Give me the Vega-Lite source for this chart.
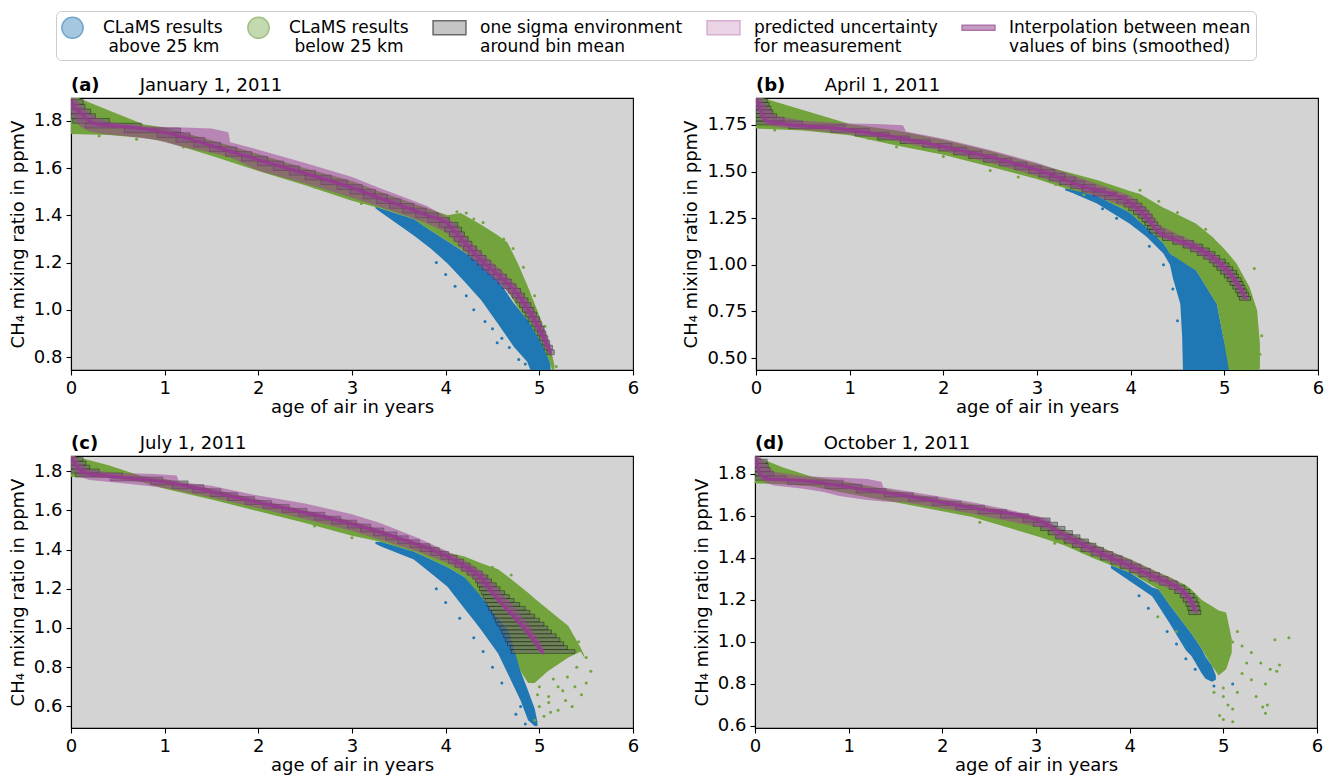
{
"$schema":"https://vega.github.io/schema/vega-lite/v6.json",
"padding":{"left":8,"top":10,"right":5,"bottom":2},
"datasets":{
"leg":[{"L":"CLaMS results|\u200b\u00a0above 25 km"},{"L":"CLaMS results|\u200b\u00a0below 25 km"},{"L":"one sigma environment|around bin mean"},{"L":"predicted uncertainty|for measurement"},{"L":"Interpolation between mean|values of bins (smoothed)"}],
"cloud":[
{"p":"a","k":"blue","age":3.25,"ch4":1.43,"ch4hi":1.44},{"p":"a","k":"blue","age":3.3,"ch4":1.415,"ch4hi":1.43},{"p":"a","k":"blue","age":3.66,"ch4":1.315,"ch4hi":1.385},{"p":"a","k":"blue","age":3.84,"ch4":1.26,"ch4hi":1.336},{"p":"a","k":"blue","age":4.02,"ch4":1.196,"ch4hi":1.29},{"p":"a","k":"blue","age":4.2,"ch4":1.12,"ch4hi":1.244},{"p":"a","k":"blue","age":4.38,"ch4":1.04,"ch4hi":1.195},{"p":"a","k":"blue","age":4.56,"ch4":0.94,"ch4hi":1.125},{"p":"a","k":"blue","age":4.73,"ch4":0.842,"ch4hi":1.027},{"p":"a","k":"blue","age":4.87,"ch4":0.78,"ch4hi":0.96},{"p":"a","k":"blue","age":4.95,"ch4":0.7,"ch4hi":0.925},{"p":"a","k":"blue","age":5.05,"ch4":0.7,"ch4hi":0.842},{"p":"a","k":"blue","age":5.12,"ch4":0.7,"ch4hi":0.77},
{"p":"a","k":"green","age":0,"ch4":1.745,"ch4hi":1.91},{"p":"a","k":"green","age":0.4,"ch4":1.74,"ch4hi":1.845},{"p":"a","k":"green","age":0.78,"ch4":1.728,"ch4hi":1.785},{"p":"a","k":"green","age":1.0,"ch4":1.713,"ch4hi":1.772},{"p":"a","k":"green","age":1.5,"ch4":1.652,"ch4hi":1.718},{"p":"a","k":"green","age":2.0,"ch4":1.588,"ch4hi":1.66},{"p":"a","k":"green","age":2.5,"ch4":1.528,"ch4hi":1.6},{"p":"a","k":"green","age":3.0,"ch4":1.462,"ch4hi":1.545},{"p":"a","k":"green","age":3.3,"ch4":1.43,"ch4hi":1.5},{"p":"a","k":"green","age":3.66,"ch4":1.385,"ch4hi":1.45},{"p":"a","k":"green","age":3.84,"ch4":1.336,"ch4hi":1.425},{"p":"a","k":"green","age":4.02,"ch4":1.29,"ch4hi":1.4},{"p":"a","k":"green","age":4.16,"ch4":1.255,"ch4hi":1.41},{"p":"a","k":"green","age":4.38,"ch4":1.195,"ch4hi":1.36},{"p":"a","k":"green","age":4.56,"ch4":1.125,"ch4hi":1.315},{"p":"a","k":"green","age":4.66,"ch4":1.08,"ch4hi":1.285},{"p":"a","k":"green","age":4.77,"ch4":1.01,"ch4hi":1.197},{"p":"a","k":"green","age":4.88,"ch4":0.955,"ch4hi":1.095},{"p":"a","k":"green","age":5.02,"ch4":0.86,"ch4hi":0.956},{"p":"a","k":"green","age":5.12,"ch4":0.77,"ch4hi":0.84},{"p":"a","k":"green","age":5.16,"ch4":0.7,"ch4hi":0.766},
{"p":"b","k":"blue","age":3.3,"ch4":1.4,"ch4hi":1.41},{"p":"b","k":"blue","age":3.38,"ch4":1.385,"ch4hi":1.405},{"p":"b","k":"blue","age":3.64,"ch4":1.328,"ch4hi":1.37},{"p":"b","k":"blue","age":3.99,"ch4":1.22,"ch4hi":1.28},{"p":"b","k":"blue","age":4.17,"ch4":1.15,"ch4hi":1.2},{"p":"b","k":"blue","age":4.35,"ch4":1.06,"ch4hi":1.115},{"p":"b","k":"blue","age":4.42,"ch4":1.0,"ch4hi":1.06},{"p":"b","k":"blue","age":4.45,"ch4":0.93,"ch4hi":1.05},{"p":"b","k":"blue","age":4.53,"ch4":0.79,"ch4hi":1.03},{"p":"b","k":"blue","age":4.55,"ch4":0.61,"ch4hi":1.02},{"p":"b","k":"blue","age":4.56,"ch4":0.4,"ch4hi":1.02},{"p":"b","k":"blue","age":4.7,"ch4":0.4,"ch4hi":0.97},{"p":"b","k":"blue","age":4.92,"ch4":0.4,"ch4hi":0.79},{"p":"b","k":"blue","age":4.99,"ch4":0.4,"ch4hi":0.61},{"p":"b","k":"blue","age":5.06,"ch4":0.4,"ch4hi":0.45},
{"p":"b","k":"green","age":0,"ch4":1.73,"ch4hi":1.905},{"p":"b","k":"green","age":0.5,"ch4":1.72,"ch4hi":1.83},{"p":"b","k":"green","age":1.0,"ch4":1.695,"ch4hi":1.755},{"p":"b","k":"green","age":1.5,"ch4":1.64,"ch4hi":1.72},{"p":"b","k":"green","age":2.0,"ch4":1.59,"ch4hi":1.67},{"p":"b","k":"green","age":2.5,"ch4":1.525,"ch4hi":1.61},{"p":"b","k":"green","age":3.0,"ch4":1.46,"ch4hi":1.54},{"p":"b","k":"green","age":3.3,"ch4":1.41,"ch4hi":1.5},{"p":"b","k":"green","age":3.64,"ch4":1.37,"ch4hi":1.455},{"p":"b","k":"green","age":3.99,"ch4":1.28,"ch4hi":1.395},{"p":"b","k":"green","age":4.1,"ch4":1.23,"ch4hi":1.38},{"p":"b","k":"green","age":4.35,"ch4":1.115,"ch4hi":1.306},{"p":"b","k":"green","age":4.42,"ch4":1.06,"ch4hi":1.29},{"p":"b","k":"green","age":4.63,"ch4":0.99,"ch4hi":1.237},{"p":"b","k":"green","age":4.7,"ch4":0.97,"ch4hi":1.22},{"p":"b","k":"green","age":4.88,"ch4":0.82,"ch4hi":1.146},{"p":"b","k":"green","age":4.92,"ch4":0.79,"ch4hi":1.125},{"p":"b","k":"green","age":4.99,"ch4":0.61,"ch4hi":1.09},{"p":"b","k":"green","age":5.06,"ch4":0.4,"ch4hi":1.05},{"p":"b","k":"green","age":5.13,"ch4":0.4,"ch4hi":1.007},{"p":"b","k":"green","age":5.27,"ch4":0.4,"ch4hi":0.88},{"p":"b","k":"green","age":5.35,"ch4":0.4,"ch4hi":0.755},{"p":"b","k":"green","age":5.38,"ch4":0.45,"ch4hi":0.58},
{"p":"c","k":"blue","age":3.25,"ch4":1.43,"ch4hi":1.44},{"p":"c","k":"blue","age":3.31,"ch4":1.416,"ch4hi":1.44},{"p":"c","k":"blue","age":3.66,"ch4":1.349,"ch4hi":1.39},{"p":"c","k":"blue","age":3.84,"ch4":1.28,"ch4hi":1.35},{"p":"c","k":"blue","age":4.02,"ch4":1.21,"ch4hi":1.31},{"p":"c","k":"blue","age":4.2,"ch4":1.1,"ch4hi":1.26},{"p":"c","k":"blue","age":4.3,"ch4":1.04,"ch4hi":1.22},{"p":"c","k":"blue","age":4.38,"ch4":0.99,"ch4hi":1.16},{"p":"c","k":"blue","age":4.56,"ch4":0.87,"ch4hi":1.05},{"p":"c","k":"blue","age":4.67,"ch4":0.76,"ch4hi":0.99},{"p":"c","k":"blue","age":4.73,"ch4":0.7,"ch4hi":0.93},{"p":"c","k":"blue","age":4.8,"ch4":0.63,"ch4hi":0.78},{"p":"c","k":"blue","age":4.88,"ch4":0.53,"ch4hi":0.68},{"p":"c","k":"blue","age":4.95,"ch4":0.5,"ch4hi":0.59},{"p":"c","k":"blue","age":4.98,"ch4":0.5,"ch4hi":0.52},
{"p":"c","k":"green","age":0,"ch4":1.77,"ch4hi":1.88},{"p":"c","k":"green","age":0.4,"ch4":1.765,"ch4hi":1.83},{"p":"c","k":"green","age":0.75,"ch4":1.745,"ch4hi":1.775},{"p":"c","k":"green","age":1.0,"ch4":1.71,"ch4hi":1.76},{"p":"c","k":"green","age":1.5,"ch4":1.655,"ch4hi":1.71},{"p":"c","k":"green","age":2.0,"ch4":1.595,"ch4hi":1.655},{"p":"c","k":"green","age":2.5,"ch4":1.535,"ch4hi":1.6},{"p":"c","k":"green","age":3.0,"ch4":1.47,"ch4hi":1.545},{"p":"c","k":"green","age":3.31,"ch4":1.44,"ch4hi":1.5},{"p":"c","k":"green","age":3.66,"ch4":1.39,"ch4hi":1.44},{"p":"c","k":"green","age":3.84,"ch4":1.35,"ch4hi":1.42},{"p":"c","k":"green","age":4.02,"ch4":1.31,"ch4hi":1.385},{"p":"c","k":"green","age":4.2,"ch4":1.26,"ch4hi":1.364},{"p":"c","k":"green","age":4.38,"ch4":1.16,"ch4hi":1.33},{"p":"c","k":"green","age":4.56,"ch4":1.05,"ch4hi":1.3},{"p":"c","k":"green","age":4.67,"ch4":0.99,"ch4hi":1.26},{"p":"c","k":"green","age":4.8,"ch4":0.78,"ch4hi":1.21},{"p":"c","k":"green","age":4.88,"ch4":0.72,"ch4hi":1.18},{"p":"c","k":"green","age":4.95,"ch4":0.72,"ch4hi":1.15},{"p":"c","k":"green","age":5.09,"ch4":0.78,"ch4hi":1.096},{"p":"c","k":"green","age":5.31,"ch4":0.85,"ch4hi":1.01},{"p":"c","k":"green","age":5.44,"ch4":0.88,"ch4hi":0.9},{"p":"c","k":"green","age":5.48,"ch4":0.85,"ch4hi":0.86},
{"p":"d","k":"blue","age":3.8,"ch4":1.35,"ch4hi":1.365},{"p":"d","k":"blue","age":4.0,"ch4":1.29,"ch4hi":1.33},{"p":"d","k":"blue","age":4.24,"ch4":1.217,"ch4hi":1.26},{"p":"d","k":"blue","age":4.31,"ch4":1.17,"ch4hi":1.25},{"p":"d","k":"blue","age":4.42,"ch4":1.094,"ch4hi":1.18},{"p":"d","k":"blue","age":4.6,"ch4":0.96,"ch4hi":1.075},{"p":"d","k":"blue","age":4.66,"ch4":0.933,"ch4hi":1.04},{"p":"d","k":"blue","age":4.77,"ch4":0.85,"ch4hi":0.966},{"p":"d","k":"blue","age":4.81,"ch4":0.824,"ch4hi":0.93},{"p":"d","k":"blue","age":4.88,"ch4":0.81,"ch4hi":0.885},{"p":"d","k":"blue","age":4.92,"ch4":0.82,"ch4hi":0.84},
{"p":"d","k":"green","age":0,"ch4":1.755,"ch4hi":1.885},{"p":"d","k":"green","age":0.3,"ch4":1.75,"ch4hi":1.83},{"p":"d","k":"green","age":0.61,"ch4":1.74,"ch4hi":1.786},{"p":"d","k":"green","age":1.0,"ch4":1.705,"ch4hi":1.76},{"p":"d","k":"green","age":1.61,"ch4":1.655,"ch4hi":1.71},{"p":"d","k":"green","age":2.32,"ch4":1.595,"ch4hi":1.655},{"p":"d","k":"green","age":3.03,"ch4":1.5,"ch4hi":1.595},{"p":"d","k":"green","age":3.3,"ch4":1.46,"ch4hi":1.53},{"p":"d","k":"green","age":3.6,"ch4":1.4,"ch4hi":1.47},{"p":"d","k":"green","age":3.8,"ch4":1.365,"ch4hi":1.43},{"p":"d","k":"green","age":4.0,"ch4":1.33,"ch4hi":1.395},{"p":"d","k":"green","age":4.31,"ch4":1.25,"ch4hi":1.33},{"p":"d","k":"green","age":4.42,"ch4":1.18,"ch4hi":1.31},{"p":"d","k":"green","age":4.6,"ch4":1.075,"ch4hi":1.27},{"p":"d","k":"green","age":4.66,"ch4":1.04,"ch4hi":1.25},{"p":"d","k":"green","age":4.77,"ch4":0.966,"ch4hi":1.2},{"p":"d","k":"green","age":4.88,"ch4":0.885,"ch4hi":1.17},{"p":"d","k":"green","age":4.95,"ch4":0.84,"ch4hi":1.15},{"p":"d","k":"green","age":5.03,"ch4":0.87,"ch4hi":1.14},{"p":"d","k":"green","age":5.09,"ch4":0.95,"ch4hi":1.013}
],
"pts":[
{"p":"a","k":"green","age":4.12,"ch4":1.415},{"p":"a","k":"green","age":4.22,"ch4":1.41},{"p":"a","k":"green","age":4.3,"ch4":1.385},{"p":"a","k":"green","age":4.4,"ch4":1.37},{"p":"a","k":"green","age":4.62,"ch4":1.3},{"p":"a","k":"green","age":4.72,"ch4":1.26},{"p":"a","k":"green","age":4.83,"ch4":1.18},{"p":"a","k":"green","age":4.95,"ch4":1.06},{"p":"a","k":"green","age":5.06,"ch4":0.93},{"p":"a","k":"green","age":5.18,"ch4":0.76},{"p":"a","k":"green","age":3.1,"ch4":1.45},{"p":"a","k":"green","age":2.6,"ch4":1.52},{"p":"a","k":"green","age":1.2,"ch4":1.69},{"p":"a","k":"green","age":0.7,"ch4":1.722},{"p":"a","k":"green","age":0.3,"ch4":1.736},
{"p":"a","k":"blue","age":4.1,"ch4":1.1},{"p":"a","k":"blue","age":4.22,"ch4":1.06},{"p":"a","k":"blue","age":4.3,"ch4":1.0},{"p":"a","k":"blue","age":4.42,"ch4":0.95},{"p":"a","k":"blue","age":4.5,"ch4":0.92},{"p":"a","k":"blue","age":4.6,"ch4":0.88},{"p":"a","k":"blue","age":4.68,"ch4":0.84},{"p":"a","k":"blue","age":4.78,"ch4":0.79},{"p":"a","k":"blue","age":4.85,"ch4":0.77},{"p":"a","k":"blue","age":4.55,"ch4":0.86},{"p":"a","k":"blue","age":4.0,"ch4":1.15},{"p":"a","k":"blue","age":3.9,"ch4":1.2},
{"p":"b","k":"green","age":4.1,"ch4":1.4},{"p":"b","k":"green","age":4.3,"ch4":1.34},{"p":"b","k":"green","age":4.5,"ch4":1.28},{"p":"b","k":"green","age":3.5,"ch4":1.375},{"p":"b","k":"green","age":2.5,"ch4":1.505},{"p":"b","k":"green","age":3.2,"ch4":1.43},{"p":"b","k":"green","age":1.5,"ch4":1.632},{"p":"b","k":"green","age":2.0,"ch4":1.58},{"p":"b","k":"green","age":2.8,"ch4":1.47},{"p":"b","k":"green","age":5.32,"ch4":0.98},{"p":"b","k":"green","age":5.4,"ch4":0.62},{"p":"b","k":"green","age":5.38,"ch4":0.52},{"p":"b","k":"green","age":4.8,"ch4":1.19},{"p":"b","k":"green","age":0.2,"ch4":1.722},{"p":"b","k":"green","age":1.2,"ch4":1.678},
{"p":"b","k":"blue","age":3.7,"ch4":1.3},{"p":"b","k":"blue","age":3.85,"ch4":1.25},{"p":"b","k":"blue","age":4.2,"ch4":1.1},{"p":"b","k":"blue","age":4.35,"ch4":1.0},{"p":"b","k":"blue","age":4.45,"ch4":0.87},{"p":"b","k":"blue","age":4.5,"ch4":0.7},
{"p":"c","k":"green","age":5.0,"ch4":0.6},{"p":"c","k":"green","age":5.1,"ch4":0.65},{"p":"c","k":"green","age":5.2,"ch4":0.7},{"p":"c","k":"green","age":5.3,"ch4":0.75},{"p":"c","k":"green","age":5.4,"ch4":0.8},{"p":"c","k":"green","age":5.5,"ch4":0.72},{"p":"c","k":"green","age":5.45,"ch4":0.66},{"p":"c","k":"green","age":5.35,"ch4":0.6},{"p":"c","k":"green","age":5.2,"ch4":0.58},{"p":"c","k":"green","age":5.05,"ch4":0.55},{"p":"c","k":"green","age":4.95,"ch4":0.53},{"p":"c","k":"green","age":5.25,"ch4":0.68},{"p":"c","k":"green","age":5.15,"ch4":0.74},{"p":"c","k":"green","age":5.5,"ch4":0.85},{"p":"c","k":"green","age":5.55,"ch4":0.78},{"p":"c","k":"green","age":5.3,"ch4":0.9},{"p":"c","k":"green","age":5.42,"ch4":0.93},{"p":"c","k":"green","age":5.1,"ch4":0.62},{"p":"c","k":"green","age":4.98,"ch4":0.66},{"p":"c","k":"green","age":5.38,"ch4":0.7},{"p":"c","k":"green","age":5.0,"ch4":0.7},{"p":"c","k":"green","age":5.12,"ch4":0.57},{"p":"c","k":"green","age":5.28,"ch4":0.63},{"p":"c","k":"green","age":3.0,"ch4":1.46},{"p":"c","k":"green","age":2.6,"ch4":1.52},{"p":"c","k":"green","age":4.5,"ch4":1.31},{"p":"c","k":"green","age":4.7,"ch4":1.27},
{"p":"c","k":"blue","age":4.0,"ch4":1.13},{"p":"c","k":"blue","age":4.15,"ch4":1.05},{"p":"c","k":"blue","age":4.3,"ch4":0.95},{"p":"c","k":"blue","age":4.5,"ch4":0.8},{"p":"c","k":"blue","age":4.6,"ch4":0.72},{"p":"c","k":"blue","age":4.75,"ch4":0.56},{"p":"c","k":"blue","age":4.85,"ch4":0.51},{"p":"c","k":"blue","age":4.8,"ch4":0.6},{"p":"c","k":"blue","age":3.9,"ch4":1.2},{"p":"c","k":"blue","age":4.4,"ch4":0.88},
{"p":"d","k":"green","age":5.1,"ch4":1.0},{"p":"d","k":"green","age":5.2,"ch4":0.98},{"p":"d","k":"green","age":5.3,"ch4":0.95},{"p":"d","k":"green","age":5.4,"ch4":0.9},{"p":"d","k":"green","age":5.5,"ch4":0.87},{"p":"d","k":"green","age":5.45,"ch4":0.8},{"p":"d","k":"green","age":5.3,"ch4":0.82},{"p":"d","k":"green","age":5.2,"ch4":0.85},{"p":"d","k":"green","age":5.15,"ch4":0.76},{"p":"d","k":"green","age":5.0,"ch4":0.74},{"p":"d","k":"green","age":5.05,"ch4":0.7},{"p":"d","k":"green","age":5.1,"ch4":0.68},{"p":"d","k":"green","age":5.35,"ch4":0.74},{"p":"d","k":"green","age":5.45,"ch4":0.66},{"p":"d","k":"green","age":5.42,"ch4":0.69},{"p":"d","k":"green","age":5.1,"ch4":0.62},{"p":"d","k":"green","age":5.0,"ch4":0.78},{"p":"d","k":"green","age":4.9,"ch4":0.76},{"p":"d","k":"green","age":5.6,"ch4":0.89},{"p":"d","k":"green","age":5.25,"ch4":0.9},{"p":"d","k":"green","age":5.15,"ch4":1.05},{"p":"d","k":"green","age":4.5,"ch4":1.05},{"p":"d","k":"green","age":4.3,"ch4":1.12},{"p":"d","k":"green","age":5.55,"ch4":1.01},{"p":"d","k":"green","age":5.7,"ch4":1.02},{"p":"d","k":"green","age":5.57,"ch4":0.86},{"p":"d","k":"green","age":5.47,"ch4":0.7},{"p":"d","k":"green","age":4.96,"ch4":0.65},{"p":"d","k":"green","age":5.0,"ch4":0.63},{"p":"d","k":"green","age":4.1,"ch4":1.32},{"p":"d","k":"green","age":3.2,"ch4":1.47},{"p":"d","k":"green","age":2.4,"ch4":1.57},
{"p":"d","k":"blue","age":4.1,"ch4":1.22},{"p":"d","k":"blue","age":4.2,"ch4":1.16},{"p":"d","k":"blue","age":4.4,"ch4":1.05},{"p":"d","k":"blue","age":4.6,"ch4":0.92},{"p":"d","k":"blue","age":4.7,"ch4":0.87},{"p":"d","k":"blue","age":4.9,"ch4":0.79},{"p":"d","k":"blue","age":5.1,"ch4":0.8},{"p":"d","k":"blue","age":4.5,"ch4":0.99}
],
"pink":[
{"p":"a","age":0,"ch4":1.84,"ch4hi":1.9},{"p":"a","age":0.05,"ch4":1.8,"ch4hi":1.895},{"p":"a","age":0.1,"ch4":1.775,"ch4hi":1.87},{"p":"a","age":0.2,"ch4":1.755,"ch4hi":1.83},{"p":"a","age":0.35,"ch4":1.745,"ch4hi":1.8},{"p":"a","age":0.6,"ch4":1.735,"ch4hi":1.785},{"p":"a","age":0.9,"ch4":1.72,"ch4hi":1.775},{"p":"a","age":1.2,"ch4":1.69,"ch4hi":1.772},{"p":"a","age":1.5,"ch4":1.665,"ch4hi":1.768},{"p":"a","age":1.68,"ch4":1.648,"ch4hi":1.752},{"p":"a","age":1.7,"ch4":1.645,"ch4hi":1.71},{"p":"a","age":2.0,"ch4":1.59,"ch4hi":1.678},{"p":"a","age":2.5,"ch4":1.535,"ch4hi":1.622},{"p":"a","age":3.0,"ch4":1.475,"ch4hi":1.562},{"p":"a","age":3.3,"ch4":1.435,"ch4hi":1.515},{"p":"a","age":3.6,"ch4":1.395,"ch4hi":1.47},{"p":"a","age":3.8,"ch4":1.365,"ch4hi":1.44},{"p":"a","age":4.0,"ch4":1.33,"ch4hi":1.395},{"p":"a","age":4.1,"ch4":1.29,"ch4hi":1.365},{"p":"a","age":4.2,"ch4":1.25,"ch4hi":1.315},{"p":"a","age":4.4,"ch4":1.17,"ch4hi":1.235},{"p":"a","age":4.6,"ch4":1.1,"ch4hi":1.165},{"p":"a","age":4.8,"ch4":1.02,"ch4hi":1.085},{"p":"a","age":4.95,"ch4":0.925,"ch4hi":0.995},{"p":"a","age":5.05,"ch4":0.85,"ch4hi":0.925},{"p":"a","age":5.13,"ch4":0.8,"ch4hi":0.84},
{"p":"b","age":0,"ch4":1.85,"ch4hi":1.9},{"p":"b","age":0.05,"ch4":1.79,"ch4hi":1.895},{"p":"b","age":0.1,"ch4":1.755,"ch4hi":1.86},{"p":"b","age":0.2,"ch4":1.74,"ch4hi":1.8},{"p":"b","age":0.5,"ch4":1.725,"ch4hi":1.772},{"p":"b","age":1.0,"ch4":1.7,"ch4hi":1.757},{"p":"b","age":1.3,"ch4":1.68,"ch4hi":1.755},{"p":"b","age":1.57,"ch4":1.655,"ch4hi":1.748},{"p":"b","age":1.6,"ch4":1.65,"ch4hi":1.715},{"p":"b","age":2.0,"ch4":1.61,"ch4hi":1.675},{"p":"b","age":2.5,"ch4":1.545,"ch4hi":1.615},{"p":"b","age":3.0,"ch4":1.475,"ch4hi":1.547},{"p":"b","age":3.5,"ch4":1.39,"ch4hi":1.46},{"p":"b","age":4.0,"ch4":1.3,"ch4hi":1.37},{"p":"b","age":4.2,"ch4":1.22,"ch4hi":1.29},{"p":"b","age":4.3,"ch4":1.155,"ch4hi":1.215},{"p":"b","age":4.5,"ch4":1.11,"ch4hi":1.165},{"p":"b","age":4.7,"ch4":1.065,"ch4hi":1.12},{"p":"b","age":4.9,"ch4":1.0,"ch4hi":1.055},{"p":"b","age":5.06,"ch4":0.925,"ch4hi":0.985},{"p":"b","age":5.2,"ch4":0.82,"ch4hi":0.875},{"p":"b","age":5.25,"ch4":0.8,"ch4hi":0.83},
{"p":"c","age":0,"ch4":1.83,"ch4hi":1.88},{"p":"c","age":0.05,"ch4":1.79,"ch4hi":1.877},{"p":"c","age":0.1,"ch4":1.77,"ch4hi":1.84},{"p":"c","age":0.2,"ch4":1.755,"ch4hi":1.805},{"p":"c","age":0.5,"ch4":1.74,"ch4hi":1.79},{"p":"c","age":0.9,"ch4":1.72,"ch4hi":1.785},{"p":"c","age":1.13,"ch4":1.705,"ch4hi":1.778},{"p":"c","age":1.15,"ch4":1.7,"ch4hi":1.745},{"p":"c","age":1.5,"ch4":1.665,"ch4hi":1.725},{"p":"c","age":2.0,"ch4":1.61,"ch4hi":1.675},{"p":"c","age":2.5,"ch4":1.555,"ch4hi":1.635},{"p":"c","age":3.0,"ch4":1.495,"ch4hi":1.58},{"p":"c","age":3.3,"ch4":1.45,"ch4hi":1.535},{"p":"c","age":3.7,"ch4":1.39,"ch4hi":1.46},{"p":"c","age":4.0,"ch4":1.335,"ch4hi":1.395},{"p":"c","age":4.2,"ch4":1.285,"ch4hi":1.345},{"p":"c","age":4.4,"ch4":1.21,"ch4hi":1.285},{"p":"c","age":4.5,"ch4":1.16,"ch4hi":1.23},{"p":"c","age":4.6,"ch4":1.11,"ch4hi":1.175},{"p":"c","age":4.75,"ch4":1.03,"ch4hi":1.095},{"p":"c","age":4.9,"ch4":0.945,"ch4hi":1.01},{"p":"c","age":5.0,"ch4":0.88,"ch4hi":0.94},{"p":"c","age":5.05,"ch4":0.86,"ch4hi":0.89},
{"p":"d","age":0,"ch4":1.84,"ch4hi":1.885},{"p":"d","age":0.05,"ch4":1.78,"ch4hi":1.885},{"p":"d","age":0.1,"ch4":1.76,"ch4hi":1.85},{"p":"d","age":0.2,"ch4":1.745,"ch4hi":1.81},{"p":"d","age":0.5,"ch4":1.73,"ch4hi":1.79},{"p":"d","age":0.72,"ch4":1.715,"ch4hi":1.785},{"p":"d","age":0.9,"ch4":1.695,"ch4hi":1.783},{"p":"d","age":1.2,"ch4":1.675,"ch4hi":1.775},{"p":"d","age":1.35,"ch4":1.67,"ch4hi":1.762},{"p":"d","age":1.37,"ch4":1.668,"ch4hi":1.735},{"p":"d","age":1.6,"ch4":1.665,"ch4hi":1.72},{"p":"d","age":2.0,"ch4":1.635,"ch4hi":1.69},{"p":"d","age":2.32,"ch4":1.61,"ch4hi":1.665},{"p":"d","age":2.7,"ch4":1.575,"ch4hi":1.63},{"p":"d","age":3.1,"ch4":1.54,"ch4hi":1.59},{"p":"d","age":3.15,"ch4":1.53,"ch4hi":1.575},{"p":"d","age":3.2,"ch4":1.5,"ch4hi":1.545},{"p":"d","age":3.6,"ch4":1.415,"ch4hi":1.465},{"p":"d","age":3.96,"ch4":1.345,"ch4hi":1.4},{"p":"d","age":4.3,"ch4":1.275,"ch4hi":1.33},{"p":"d","age":4.5,"ch4":1.24,"ch4hi":1.29},{"p":"d","age":4.6,"ch4":1.2,"ch4hi":1.25},{"p":"d","age":4.7,"ch4":1.135,"ch4hi":1.19},{"p":"d","age":4.73,"ch4":1.13,"ch4hi":1.15}
],
"line":[
{"p":"a","age":0,"ch4":1.89},{"p":"a","age":0.03,"ch4":1.86},{"p":"a","age":0.09,"ch4":1.84},{"p":"a","age":0.16,"ch4":1.81},{"p":"a","age":0.3,"ch4":1.785},{"p":"a","age":0.6,"ch4":1.775},{"p":"a","age":0.96,"ch4":1.755},{"p":"a","age":1.5,"ch4":1.695},{"p":"a","age":2.0,"ch4":1.635},{"p":"a","age":2.5,"ch4":1.577},{"p":"a","age":3.0,"ch4":1.517},{"p":"a","age":3.31,"ch4":1.471},{"p":"a","age":3.6,"ch4":1.43},{"p":"a","age":3.8,"ch4":1.4},{"p":"a","age":4.02,"ch4":1.365},{"p":"a","age":4.1,"ch4":1.33},{"p":"a","age":4.2,"ch4":1.285},{"p":"a","age":4.38,"ch4":1.209},{"p":"a","age":4.55,"ch4":1.15},{"p":"a","age":4.73,"ch4":1.083},{"p":"a","age":4.85,"ch4":1.02},{"p":"a","age":4.99,"ch4":0.927},{"p":"a","age":5.06,"ch4":0.87},{"p":"a","age":5.12,"ch4":0.817},
{"p":"b","age":0,"ch4":1.89},{"p":"b","age":0.03,"ch4":1.85},{"p":"b","age":0.07,"ch4":1.8},{"p":"b","age":0.11,"ch4":1.77},{"p":"b","age":0.3,"ch4":1.755},{"p":"b","age":0.9,"ch4":1.729},{"p":"b","age":1.96,"ch4":1.638},{"p":"b","age":3.03,"ch4":1.504},{"p":"b","age":3.46,"ch4":1.425},{"p":"b","age":3.99,"ch4":1.335},{"p":"b","age":4.17,"ch4":1.253},{"p":"b","age":4.28,"ch4":1.18},{"p":"b","age":4.42,"ch4":1.146},{"p":"b","age":4.7,"ch4":1.093},{"p":"b","age":4.92,"ch4":1.023},{"p":"b","age":5.06,"ch4":0.953},{"p":"b","age":5.2,"ch4":0.846},{"p":"b","age":5.22,"ch4":0.82},
{"p":"c","age":0,"ch4":1.87},{"p":"c","age":0.04,"ch4":1.84},{"p":"c","age":0.1,"ch4":1.805},{"p":"c","age":0.2,"ch4":1.785},{"p":"c","age":0.5,"ch4":1.77},{"p":"c","age":1.0,"ch4":1.745},{"p":"c","age":1.5,"ch4":1.695},{"p":"c","age":2.0,"ch4":1.64},{"p":"c","age":2.5,"ch4":1.588},{"p":"c","age":3.0,"ch4":1.53},{"p":"c","age":3.31,"ch4":1.487},{"p":"c","age":3.7,"ch4":1.425},{"p":"c","age":4.02,"ch4":1.364},{"p":"c","age":4.2,"ch4":1.315},{"p":"c","age":4.38,"ch4":1.256},{"p":"c","age":4.47,"ch4":1.2},{"p":"c","age":4.56,"ch4":1.144},{"p":"c","age":4.73,"ch4":1.057},{"p":"c","age":4.88,"ch4":0.974},{"p":"c","age":4.99,"ch4":0.903},{"p":"c","age":5.04,"ch4":0.872},
{"p":"d","age":0,"ch4":1.88},{"p":"d","age":0.02,"ch4":1.85},{"p":"d","age":0.05,"ch4":1.8},{"p":"d","age":0.15,"ch4":1.776},{"p":"d","age":0.54,"ch4":1.767},{"p":"d","age":0.9,"ch4":1.743},{"p":"d","age":1.61,"ch4":1.695},{"p":"d","age":2.32,"ch4":1.638},{"p":"d","age":3.03,"ch4":1.578},{"p":"d","age":3.3,"ch4":1.51},{"p":"d","age":3.6,"ch4":1.44},{"p":"d","age":3.96,"ch4":1.37},{"p":"d","age":4.31,"ch4":1.3},{"p":"d","age":4.49,"ch4":1.265},{"p":"d","age":4.6,"ch4":1.227},{"p":"d","age":4.66,"ch4":1.19},{"p":"d","age":4.7,"ch4":1.146}
],
"box":[
{"p":"a","age":0,"age2":0.13,"ch4":1.87,"ch4hi":1.89},{"p":"a","age":0,"age2":0.15,"ch4":1.85,"ch4hi":1.87},{"p":"a","age":0,"age2":0.21,"ch4":1.83,"ch4hi":1.85},{"p":"a","age":0,"age2":0.26,"ch4":1.81,"ch4hi":1.83},{"p":"a","age":0.02,"age2":0.41,"ch4":1.79,"ch4hi":1.81},{"p":"a","age":0.15,"age2":0.75,"ch4":1.77,"ch4hi":1.79},{"p":"a","age":0.57,"age2":1.17,"ch4":1.75,"ch4hi":1.77},{"p":"a","age":0.92,"age2":1.27,"ch4":1.73,"ch4hi":1.75},{"p":"a","age":1.12,"age2":1.43,"ch4":1.71,"ch4hi":1.73},{"p":"a","age":1.31,"age2":1.6,"ch4":1.69,"ch4hi":1.71},{"p":"a","age":1.48,"age2":1.77,"ch4":1.67,"ch4hi":1.69},{"p":"a","age":1.65,"age2":1.93,"ch4":1.65,"ch4hi":1.67},{"p":"a","age":1.82,"age2":2.1,"ch4":1.63,"ch4hi":1.65},{"p":"a","age":1.99,"age2":2.27,"ch4":1.61,"ch4hi":1.63},{"p":"a","age":2.16,"age2":2.44,"ch4":1.59,"ch4hi":1.61},{"p":"a","age":2.33,"age2":2.61,"ch4":1.57,"ch4hi":1.59},{"p":"a","age":2.5,"age2":2.78,"ch4":1.55,"ch4hi":1.57},{"p":"a","age":2.67,"age2":2.95,"ch4":1.53,"ch4hi":1.55},{"p":"a","age":2.84,"age2":3.11,"ch4":1.51,"ch4hi":1.53},{"p":"a","age":2.98,"age2":3.25,"ch4":1.49,"ch4hi":1.51},{"p":"a","age":3.12,"age2":3.38,"ch4":1.47,"ch4hi":1.49},{"p":"a","age":3.26,"age2":3.52,"ch4":1.45,"ch4hi":1.47},{"p":"a","age":3.4,"age2":3.66,"ch4":1.43,"ch4hi":1.45},{"p":"a","age":3.54,"age2":3.79,"ch4":1.41,"ch4hi":1.43},{"p":"a","age":3.68,"age2":3.92,"ch4":1.39,"ch4hi":1.41},{"p":"a","age":3.81,"age2":4.04,"ch4":1.37,"ch4hi":1.39},{"p":"a","age":3.93,"age2":4.13,"ch4":1.35,"ch4hi":1.37},{"p":"a","age":3.99,"age2":4.17,"ch4":1.33,"ch4hi":1.35},{"p":"a","age":4.04,"age2":4.2,"ch4":1.31,"ch4hi":1.33},{"p":"a","age":4.09,"age2":4.24,"ch4":1.29,"ch4hi":1.31},{"p":"a","age":4.14,"age2":4.28,"ch4":1.27,"ch4hi":1.29},{"p":"a","age":4.19,"age2":4.33,"ch4":1.25,"ch4hi":1.27},{"p":"a","age":4.24,"age2":4.38,"ch4":1.23,"ch4hi":1.25},{"p":"a","age":4.28,"age2":4.43,"ch4":1.21,"ch4hi":1.23},{"p":"a","age":4.34,"age2":4.48,"ch4":1.19,"ch4hi":1.21},{"p":"a","age":4.39,"age2":4.53,"ch4":1.17,"ch4hi":1.19},{"p":"a","age":4.45,"age2":4.59,"ch4":1.15,"ch4hi":1.17},{"p":"a","age":4.51,"age2":4.65,"ch4":1.13,"ch4hi":1.15},{"p":"a","age":4.56,"age2":4.7,"ch4":1.11,"ch4hi":1.13},{"p":"a","age":4.61,"age2":4.75,"ch4":1.09,"ch4hi":1.11},{"p":"a","age":4.67,"age2":4.8,"ch4":1.07,"ch4hi":1.09},{"p":"a","age":4.71,"age2":4.84,"ch4":1.05,"ch4hi":1.07},{"p":"a","age":4.75,"age2":4.88,"ch4":1.03,"ch4hi":1.05},{"p":"a","age":4.79,"age2":4.91,"ch4":1.01,"ch4hi":1.03},{"p":"a","age":4.82,"age2":4.94,"ch4":0.99,"ch4hi":1.01},{"p":"a","age":4.85,"age2":4.97,"ch4":0.97,"ch4hi":0.99},{"p":"a","age":4.88,"age2":5.0,"ch4":0.95,"ch4hi":0.97},{"p":"a","age":4.92,"age2":5.02,"ch4":0.93,"ch4hi":0.95},{"p":"a","age":4.95,"age2":5.05,"ch4":0.91,"ch4hi":0.93},{"p":"a","age":4.98,"age2":5.07,"ch4":0.89,"ch4hi":0.91},{"p":"a","age":5.0,"age2":5.09,"ch4":0.87,"ch4hi":0.89},{"p":"a","age":5.03,"age2":5.11,"ch4":0.85,"ch4hi":0.87},{"p":"a","age":5.05,"age2":5.14,"ch4":0.83,"ch4hi":0.85},{"p":"a","age":5.08,"age2":5.16,"ch4":0.81,"ch4hi":0.83},
{"p":"b","age":0,"age2":0.12,"ch4":1.87,"ch4hi":1.89},{"p":"b","age":0,"age2":0.14,"ch4":1.85,"ch4hi":1.87},{"p":"b","age":0,"age2":0.16,"ch4":1.83,"ch4hi":1.85},{"p":"b","age":0,"age2":0.18,"ch4":1.81,"ch4hi":1.83},{"p":"b","age":0,"age2":0.22,"ch4":1.79,"ch4hi":1.81},{"p":"b","age":0,"age2":0.3,"ch4":1.77,"ch4hi":1.79},{"p":"b","age":0,"age2":0.5,"ch4":1.75,"ch4hi":1.77},{"p":"b","age":0.35,"age2":0.95,"ch4":1.73,"ch4hi":1.75},{"p":"b","age":0.8,"age2":1.21,"ch4":1.71,"ch4hi":1.73},{"p":"b","age":1.06,"age2":1.42,"ch4":1.69,"ch4hi":1.71},{"p":"b","age":1.3,"age2":1.64,"ch4":1.67,"ch4hi":1.69},{"p":"b","age":1.54,"age2":1.86,"ch4":1.65,"ch4hi":1.67},{"p":"b","age":1.78,"age2":2.09,"ch4":1.63,"ch4hi":1.65},{"p":"b","age":1.95,"age2":2.25,"ch4":1.61,"ch4hi":1.63},{"p":"b","age":2.11,"age2":2.41,"ch4":1.59,"ch4hi":1.61},{"p":"b","age":2.27,"age2":2.57,"ch4":1.57,"ch4hi":1.59},{"p":"b","age":2.43,"age2":2.73,"ch4":1.55,"ch4hi":1.57},{"p":"b","age":2.6,"age2":2.89,"ch4":1.53,"ch4hi":1.55},{"p":"b","age":2.76,"age2":3.05,"ch4":1.51,"ch4hi":1.53},{"p":"b","age":2.91,"age2":3.19,"ch4":1.49,"ch4hi":1.51},{"p":"b","age":3.02,"age2":3.3,"ch4":1.47,"ch4hi":1.49},{"p":"b","age":3.13,"age2":3.41,"ch4":1.45,"ch4hi":1.47},{"p":"b","age":3.24,"age2":3.51,"ch4":1.43,"ch4hi":1.45},{"p":"b","age":3.36,"age2":3.62,"ch4":1.41,"ch4hi":1.43},{"p":"b","age":3.48,"age2":3.73,"ch4":1.39,"ch4hi":1.41},{"p":"b","age":3.6,"age2":3.85,"ch4":1.37,"ch4hi":1.39},{"p":"b","age":3.72,"age2":3.96,"ch4":1.35,"ch4hi":1.37},{"p":"b","age":3.85,"age2":4.07,"ch4":1.33,"ch4hi":1.35},{"p":"b","age":3.93,"age2":4.12,"ch4":1.31,"ch4hi":1.33},{"p":"b","age":3.98,"age2":4.16,"ch4":1.29,"ch4hi":1.31},{"p":"b","age":4.03,"age2":4.19,"ch4":1.27,"ch4hi":1.29},{"p":"b","age":4.08,"age2":4.23,"ch4":1.25,"ch4hi":1.27},{"p":"b","age":4.12,"age2":4.26,"ch4":1.23,"ch4hi":1.25},{"p":"b","age":4.15,"age2":4.29,"ch4":1.21,"ch4hi":1.23},{"p":"b","age":4.18,"age2":4.32,"ch4":1.19,"ch4hi":1.21},{"p":"b","age":4.2,"age2":4.36,"ch4":1.17,"ch4hi":1.19},{"p":"b","age":4.27,"age2":4.45,"ch4":1.15,"ch4hi":1.17},{"p":"b","age":4.34,"age2":4.56,"ch4":1.13,"ch4hi":1.15},{"p":"b","age":4.45,"age2":4.67,"ch4":1.11,"ch4hi":1.13},{"p":"b","age":4.56,"age2":4.77,"ch4":1.09,"ch4hi":1.11},{"p":"b","age":4.64,"age2":4.84,"ch4":1.07,"ch4hi":1.09},{"p":"b","age":4.71,"age2":4.9,"ch4":1.05,"ch4hi":1.07},{"p":"b","age":4.78,"age2":4.95,"ch4":1.03,"ch4hi":1.05},{"p":"b","age":4.84,"age2":5.01,"ch4":1.01,"ch4hi":1.03},{"p":"b","age":4.88,"age2":5.05,"ch4":0.99,"ch4hi":1.01},{"p":"b","age":4.92,"age2":5.09,"ch4":0.97,"ch4hi":0.99},{"p":"b","age":4.96,"age2":5.13,"ch4":0.95,"ch4hi":0.97},{"p":"b","age":5.0,"age2":5.15,"ch4":0.93,"ch4hi":0.95},{"p":"b","age":5.03,"age2":5.18,"ch4":0.91,"ch4hi":0.93},{"p":"b","age":5.06,"age2":5.2,"ch4":0.89,"ch4hi":0.91},{"p":"b","age":5.09,"age2":5.22,"ch4":0.87,"ch4hi":0.89},{"p":"b","age":5.12,"age2":5.24,"ch4":0.85,"ch4hi":0.87},{"p":"b","age":5.14,"age2":5.26,"ch4":0.83,"ch4hi":0.85},{"p":"b","age":5.16,"age2":5.28,"ch4":0.81,"ch4hi":0.83},
{"p":"c","age":0,"age2":0.13,"ch4":1.85,"ch4hi":1.87},{"p":"c","age":0,"age2":0.16,"ch4":1.83,"ch4hi":1.85},{"p":"c","age":0,"age2":0.2,"ch4":1.81,"ch4hi":1.83},{"p":"c","age":0,"age2":0.3,"ch4":1.79,"ch4hi":1.81},{"p":"c","age":0.05,"age2":0.55,"ch4":1.77,"ch4hi":1.79},{"p":"c","age":0.42,"age2":0.98,"ch4":1.75,"ch4hi":1.77},{"p":"c","age":0.85,"age2":1.25,"ch4":1.73,"ch4hi":1.75},{"p":"c","age":1.08,"age2":1.42,"ch4":1.71,"ch4hi":1.73},{"p":"c","age":1.3,"age2":1.6,"ch4":1.69,"ch4hi":1.71},{"p":"c","age":1.49,"age2":1.78,"ch4":1.67,"ch4hi":1.69},{"p":"c","age":1.67,"age2":1.96,"ch4":1.65,"ch4hi":1.67},{"p":"c","age":1.86,"age2":2.14,"ch4":1.63,"ch4hi":1.65},{"p":"c","age":2.05,"age2":2.33,"ch4":1.61,"ch4hi":1.63},{"p":"c","age":2.25,"age2":2.52,"ch4":1.59,"ch4hi":1.61},{"p":"c","age":2.43,"age2":2.71,"ch4":1.57,"ch4hi":1.59},{"p":"c","age":2.6,"age2":2.88,"ch4":1.55,"ch4hi":1.57},{"p":"c","age":2.78,"age2":3.05,"ch4":1.53,"ch4hi":1.55},{"p":"c","age":2.95,"age2":3.2,"ch4":1.51,"ch4hi":1.53},{"p":"c","age":3.09,"age2":3.34,"ch4":1.49,"ch4hi":1.51},{"p":"c","age":3.23,"age2":3.48,"ch4":1.47,"ch4hi":1.49},{"p":"c","age":3.36,"age2":3.6,"ch4":1.45,"ch4hi":1.47},{"p":"c","age":3.49,"age2":3.72,"ch4":1.43,"ch4hi":1.45},{"p":"c","age":3.62,"age2":3.83,"ch4":1.41,"ch4hi":1.43},{"p":"c","age":3.73,"age2":3.93,"ch4":1.39,"ch4hi":1.41},{"p":"c","age":3.84,"age2":4.03,"ch4":1.37,"ch4hi":1.39},{"p":"c","age":3.95,"age2":4.12,"ch4":1.35,"ch4hi":1.37},{"p":"c","age":4.03,"age2":4.19,"ch4":1.33,"ch4hi":1.35},{"p":"c","age":4.1,"age2":4.26,"ch4":1.31,"ch4hi":1.33},{"p":"c","age":4.17,"age2":4.32,"ch4":1.29,"ch4hi":1.31},{"p":"c","age":4.23,"age2":4.39,"ch4":1.27,"ch4hi":1.29},{"p":"c","age":4.29,"age2":4.45,"ch4":1.25,"ch4hi":1.27},{"p":"c","age":4.32,"age2":4.49,"ch4":1.23,"ch4hi":1.25},{"p":"c","age":4.34,"age2":4.54,"ch4":1.21,"ch4hi":1.23},{"p":"c","age":4.36,"age2":4.58,"ch4":1.19,"ch4hi":1.21},{"p":"c","age":4.38,"age2":4.63,"ch4":1.17,"ch4hi":1.19},{"p":"c","age":4.4,"age2":4.68,"ch4":1.15,"ch4hi":1.17},{"p":"c","age":4.42,"age2":4.73,"ch4":1.13,"ch4hi":1.15},{"p":"c","age":4.44,"age2":4.79,"ch4":1.11,"ch4hi":1.13},{"p":"c","age":4.46,"age2":4.85,"ch4":1.09,"ch4hi":1.11},{"p":"c","age":4.49,"age2":4.9,"ch4":1.07,"ch4hi":1.09},{"p":"c","age":4.51,"age2":4.95,"ch4":1.05,"ch4hi":1.07},{"p":"c","age":4.53,"age2":5.0,"ch4":1.03,"ch4hi":1.05},{"p":"c","age":4.55,"age2":5.05,"ch4":1.01,"ch4hi":1.03},{"p":"c","age":4.58,"age2":5.09,"ch4":0.99,"ch4hi":1.01},{"p":"c","age":4.6,"age2":5.13,"ch4":0.97,"ch4hi":0.99},{"p":"c","age":4.62,"age2":5.18,"ch4":0.95,"ch4hi":0.97},{"p":"c","age":4.64,"age2":5.22,"ch4":0.93,"ch4hi":0.95},{"p":"c","age":4.66,"age2":5.26,"ch4":0.91,"ch4hi":0.93},{"p":"c","age":4.69,"age2":5.3,"ch4":0.89,"ch4hi":0.91},{"p":"c","age":4.7,"age2":5.38,"ch4":0.87,"ch4hi":0.89},
{"p":"d","age":0,"age2":0.13,"ch4":1.85,"ch4hi":1.87},{"p":"d","age":0,"age2":0.14,"ch4":1.83,"ch4hi":1.85},{"p":"d","age":0,"age2":0.16,"ch4":1.81,"ch4hi":1.83},{"p":"d","age":0,"age2":0.2,"ch4":1.79,"ch4hi":1.81},{"p":"d","age":0,"age2":0.33,"ch4":1.77,"ch4hi":1.79},{"p":"d","age":0.35,"age2":0.94,"ch4":1.75,"ch4hi":1.77},{"p":"d","age":0.75,"age2":1.14,"ch4":1.73,"ch4hi":1.75},{"p":"d","age":1.08,"age2":1.4,"ch4":1.71,"ch4hi":1.73},{"p":"d","age":1.38,"age2":1.69,"ch4":1.69,"ch4hi":1.71},{"p":"d","age":1.64,"age2":1.95,"ch4":1.67,"ch4hi":1.69},{"p":"d","age":1.89,"age2":2.2,"ch4":1.65,"ch4hi":1.67},{"p":"d","age":2.14,"age2":2.45,"ch4":1.63,"ch4hi":1.65},{"p":"d","age":2.38,"age2":2.69,"ch4":1.61,"ch4hi":1.63},{"p":"d","age":2.62,"age2":2.92,"ch4":1.59,"ch4hi":1.61},{"p":"d","age":2.86,"age2":3.15,"ch4":1.57,"ch4hi":1.59},{"p":"d","age":2.97,"age2":3.23,"ch4":1.55,"ch4hi":1.57},{"p":"d","age":3.05,"age2":3.31,"ch4":1.53,"ch4hi":1.55},{"p":"d","age":3.13,"age2":3.39,"ch4":1.51,"ch4hi":1.53},{"p":"d","age":3.21,"age2":3.47,"ch4":1.49,"ch4hi":1.51},{"p":"d","age":3.3,"age2":3.56,"ch4":1.47,"ch4hi":1.49},{"p":"d","age":3.39,"age2":3.64,"ch4":1.45,"ch4hi":1.47},{"p":"d","age":3.48,"age2":3.72,"ch4":1.43,"ch4hi":1.45},{"p":"d","age":3.59,"age2":3.82,"ch4":1.41,"ch4hi":1.43},{"p":"d","age":3.69,"age2":3.92,"ch4":1.39,"ch4hi":1.41},{"p":"d","age":3.8,"age2":4.02,"ch4":1.37,"ch4hi":1.39},{"p":"d","age":3.9,"age2":4.12,"ch4":1.35,"ch4hi":1.37},{"p":"d","age":4.0,"age2":4.22,"ch4":1.33,"ch4hi":1.35},{"p":"d","age":4.1,"age2":4.32,"ch4":1.31,"ch4hi":1.33},{"p":"d","age":4.21,"age2":4.41,"ch4":1.29,"ch4hi":1.31},{"p":"d","age":4.32,"age2":4.51,"ch4":1.27,"ch4hi":1.29},{"p":"d","age":4.42,"age2":4.59,"ch4":1.25,"ch4hi":1.27},{"p":"d","age":4.48,"age2":4.64,"ch4":1.23,"ch4hi":1.25},{"p":"d","age":4.54,"age2":4.69,"ch4":1.21,"ch4hi":1.23},{"p":"d","age":4.57,"age2":4.72,"ch4":1.19,"ch4hi":1.21},{"p":"d","age":4.6,"age2":4.74,"ch4":1.17,"ch4hi":1.19},{"p":"d","age":4.62,"age2":4.75,"ch4":1.15,"ch4hi":1.17},{"p":"d","age":4.63,"age2":4.76,"ch4":1.13,"ch4hi":1.15}
]
},
"vconcat":[
{"hconcat":[
{"width":562,"height":272,
"title":{"text":"(a)","subtitle":"\u200b\u00a0\u00a0\u00a0\u00a0\u00a0\u00a0\u00a0\u00a0\u00a0\u00a0\u00a0\u00a0January 1, 2011"},
"encoding":{"x":{"field":"age","type":"quantitative","scale":{"domain":[0,6],"nice":false,"zero":false},"axis":{"values":[0,1,2,3,4,5,6],"format":"d","title":"age of air in years"}},
"y":{"field":"ch4","type":"quantitative","scale":{"domain":[0.745,1.897],"nice":false,"zero":false},"axis":{"values":[0.8,1.0,1.2,1.4,1.6,1.8],"format":".1f","title":"CH₄ mixing ratio in ppmV"}}},
"layer":[
{"data":{"name":"cloud"},"transform":[{"filter":"datum.p=='a' && datum.k=='blue'"}],"mark":{"type":"area","color":"#1f77b4","clip":true},"encoding":{"y2":{"field":"ch4hi"}}},
{"data":{"name":"pts"},"transform":[{"filter":"datum.p=='a' && datum.k=='blue'"}],"mark":{"type":"circle","color":"#1f77b4","size":9,"opacity":1,"clip":true}},
{"data":{"name":"cloud"},"transform":[{"filter":"datum.p=='a' && datum.k=='green'"}],"mark":{"type":"area","color":"#72a33c","clip":true},"encoding":{"y2":{"field":"ch4hi"}}},
{"data":{"name":"pts"},"transform":[{"filter":"datum.p=='a' && datum.k=='green'"}],"mark":{"type":"circle","color":"#72a33c","size":9,"opacity":1,"clip":true}},
{"data":{"name":"box"},"transform":[{"filter":"datum.p=='a'"}],"mark":{"type":"rect","fill":"#6a6a6a","fillOpacity":0.6,"stroke":"#000000","strokeWidth":0.5,"strokeOpacity":0.7,"clip":true},"encoding":{"x2":{"field":"age2"},"y2":{"field":"ch4hi"}}},
{"data":{"name":"pink"},"transform":[{"filter":"datum.p=='a'"}],"mark":{"type":"area","color":"#a0409a","opacity":0.52,"clip":true},"encoding":{"y2":{"field":"ch4hi"}}},
{"data":{"name":"line"},"transform":[{"filter":"datum.p=='a'"}],"mark":{"type":"line","color":"#963c8f","strokeWidth":3,"interpolate":"monotone","clip":true}},
{"data":{"name":"leg"},"mark":{"type":"point","filled":true},
"encoding":{
"fill":{"field":"L","type":"nominal","scale":{"domain":["CLaMS results|\u200b\u00a0above 25 km","CLaMS results|\u200b\u00a0below 25 km","one sigma environment|around bin mean","predicted uncertainty|for measurement","Interpolation between mean|values of bins (smoothed)"],"range":["#4c8ec2","#8ab261","#8a8a8a","#d4a7cc","#8c3a87"]},
"legend":{"title":null,"orient":"none","legendX":-15,"legendY":-87,"direction":"horizontal","columns":5,"columnPadding":21,"symbolSize":450,"symbolStrokeWidth":1.5,"symbolOpacity":1,"labelFontSize":17,"labelFont":"DejaVu Sans","labelColor":"#000000","labelLimit":400,"labelOffset":19,"labelExpr":"split(datum.label, '|')","fillColor":"#ffffff","strokeColor":"#cccccc","padding":5,"cornerRadius":5}},
"stroke":{"field":"L","type":"nominal","scale":{"domain":["CLaMS results|\u200b\u00a0above 25 km","CLaMS results|\u200b\u00a0below 25 km","one sigma environment|around bin mean","predicted uncertainty|for measurement","Interpolation between mean|values of bins (smoothed)"],"range":["#3a7fb8","#79a54d","#2b2b2b","#c48dbd","#8c3a87"]},"legend":{"title":null}},
"shape":{"field":"L","type":"nominal","scale":{"domain":["CLaMS results|\u200b\u00a0above 25 km","CLaMS results|\u200b\u00a0below 25 km","one sigma environment|around bin mean","predicted uncertainty|for measurement","Interpolation between mean|values of bins (smoothed)"],"range":["circle","circle","M-1.55,-0.66H1.55V0.66H-1.55Z","M-1.55,-0.66H1.55V0.66H-1.55Z","M-1.55,-0.24H1.55V0.24H-1.55Z"]},"legend":{"title":null}}
}}
]},
{"width":562,"height":272,
"title":{"text":"(b)","subtitle":"\u200b\u00a0\u00a0\u00a0\u00a0\u00a0\u00a0\u00a0\u00a0\u00a0\u00a0\u00a0\u00a0April 1, 2011"},
"encoding":{"x":{"field":"age","type":"quantitative","scale":{"domain":[0,6],"nice":false,"zero":false},"axis":{"values":[0,1,2,3,4,5,6],"format":"d","title":"age of air in years"}},
"y":{"field":"ch4","type":"quantitative","scale":{"domain":[0.436,1.894],"nice":false,"zero":false},"axis":{"values":[0.5,0.75,1.0,1.25,1.5,1.75],"format":".2f","title":"CH₄ mixing ratio in ppmV"}}},
"layer":[
{"data":{"name":"cloud"},"transform":[{"filter":"datum.p=='b' && datum.k=='blue'"}],"mark":{"type":"area","color":"#1f77b4","clip":true},"encoding":{"y2":{"field":"ch4hi"}}},
{"data":{"name":"pts"},"transform":[{"filter":"datum.p=='b' && datum.k=='blue'"}],"mark":{"type":"circle","color":"#1f77b4","size":9,"opacity":1,"clip":true}},
{"data":{"name":"cloud"},"transform":[{"filter":"datum.p=='b' && datum.k=='green'"}],"mark":{"type":"area","color":"#72a33c","clip":true},"encoding":{"y2":{"field":"ch4hi"}}},
{"data":{"name":"pts"},"transform":[{"filter":"datum.p=='b' && datum.k=='green'"}],"mark":{"type":"circle","color":"#72a33c","size":9,"opacity":1,"clip":true}},
{"data":{"name":"box"},"transform":[{"filter":"datum.p=='b'"}],"mark":{"type":"rect","fill":"#6a6a6a","fillOpacity":0.6,"stroke":"#000000","strokeWidth":0.5,"strokeOpacity":0.7,"clip":true},"encoding":{"x2":{"field":"age2"},"y2":{"field":"ch4hi"}}},
{"data":{"name":"pink"},"transform":[{"filter":"datum.p=='b'"}],"mark":{"type":"area","color":"#a0409a","opacity":0.52,"clip":true},"encoding":{"y2":{"field":"ch4hi"}}},
{"data":{"name":"line"},"transform":[{"filter":"datum.p=='b'"}],"mark":{"type":"line","color":"#963c8f","strokeWidth":3,"interpolate":"monotone","clip":true}}
]}
],"spacing":42},
{"hconcat":[
{"width":562,"height":272,
"title":{"text":"(c)","subtitle":"\u200b\u00a0\u00a0\u00a0\u00a0\u00a0\u00a0\u00a0\u00a0\u00a0\u00a0\u00a0\u00a0July 1, 2011"},
"encoding":{"x":{"field":"age","type":"quantitative","scale":{"domain":[0,6],"nice":false,"zero":false},"axis":{"values":[0,1,2,3,4,5,6],"format":"d","title":"age of air in years"}},
"y":{"field":"ch4","type":"quantitative","scale":{"domain":[0.49,1.877],"nice":false,"zero":false},"axis":{"values":[0.6,0.8,1.0,1.2,1.4,1.6,1.8],"format":".1f","title":"CH₄ mixing ratio in ppmV"}}},
"layer":[
{"data":{"name":"cloud"},"transform":[{"filter":"datum.p=='c' && datum.k=='blue'"}],"mark":{"type":"area","color":"#1f77b4","clip":true},"encoding":{"y2":{"field":"ch4hi"}}},
{"data":{"name":"pts"},"transform":[{"filter":"datum.p=='c' && datum.k=='blue'"}],"mark":{"type":"circle","color":"#1f77b4","size":9,"opacity":1,"clip":true}},
{"data":{"name":"cloud"},"transform":[{"filter":"datum.p=='c' && datum.k=='green'"}],"mark":{"type":"area","color":"#72a33c","clip":true},"encoding":{"y2":{"field":"ch4hi"}}},
{"data":{"name":"pts"},"transform":[{"filter":"datum.p=='c' && datum.k=='green'"}],"mark":{"type":"circle","color":"#72a33c","size":9,"opacity":1,"clip":true}},
{"data":{"name":"box"},"transform":[{"filter":"datum.p=='c'"}],"mark":{"type":"rect","fill":"#6a6a6a","fillOpacity":0.6,"stroke":"#000000","strokeWidth":0.5,"strokeOpacity":0.7,"clip":true},"encoding":{"x2":{"field":"age2"},"y2":{"field":"ch4hi"}}},
{"data":{"name":"pink"},"transform":[{"filter":"datum.p=='c'"}],"mark":{"type":"area","color":"#a0409a","opacity":0.52,"clip":true},"encoding":{"y2":{"field":"ch4hi"}}},
{"data":{"name":"line"},"transform":[{"filter":"datum.p=='c'"}],"mark":{"type":"line","color":"#963c8f","strokeWidth":3,"interpolate":"monotone","clip":true}}
]},
{"width":562,"height":272,
"title":{"text":"(d)","subtitle":"\u200b\u00a0\u00a0\u00a0\u00a0\u00a0\u00a0\u00a0\u00a0\u00a0\u00a0\u00a0\u00a0October 1, 2011"},
"encoding":{"x":{"field":"age","type":"quantitative","scale":{"domain":[0,6],"nice":false,"zero":false},"axis":{"values":[0,1,2,3,4,5,6],"format":"d","title":"age of air in years"}},
"y":{"field":"ch4","type":"quantitative","scale":{"domain":[0.59,1.885],"nice":false,"zero":false},"axis":{"values":[0.6,0.8,1.0,1.2,1.4,1.6,1.8],"format":".1f","title":"CH₄ mixing ratio in ppmV"}}},
"layer":[
{"data":{"name":"cloud"},"transform":[{"filter":"datum.p=='d' && datum.k=='blue'"}],"mark":{"type":"area","color":"#1f77b4","clip":true},"encoding":{"y2":{"field":"ch4hi"}}},
{"data":{"name":"pts"},"transform":[{"filter":"datum.p=='d' && datum.k=='blue'"}],"mark":{"type":"circle","color":"#1f77b4","size":9,"opacity":1,"clip":true}},
{"data":{"name":"cloud"},"transform":[{"filter":"datum.p=='d' && datum.k=='green'"}],"mark":{"type":"area","color":"#72a33c","clip":true},"encoding":{"y2":{"field":"ch4hi"}}},
{"data":{"name":"pts"},"transform":[{"filter":"datum.p=='d' && datum.k=='green'"}],"mark":{"type":"circle","color":"#72a33c","size":9,"opacity":1,"clip":true}},
{"data":{"name":"box"},"transform":[{"filter":"datum.p=='d'"}],"mark":{"type":"rect","fill":"#6a6a6a","fillOpacity":0.6,"stroke":"#000000","strokeWidth":0.5,"strokeOpacity":0.7,"clip":true},"encoding":{"x2":{"field":"age2"},"y2":{"field":"ch4hi"}}},
{"data":{"name":"pink"},"transform":[{"filter":"datum.p=='d'"}],"mark":{"type":"area","color":"#a0409a","opacity":0.52,"clip":true},"encoding":{"y2":{"field":"ch4hi"}}},
{"data":{"name":"line"},"transform":[{"filter":"datum.p=='d'"}],"mark":{"type":"line","color":"#963c8f","strokeWidth":3,"interpolate":"monotone","clip":true}}
]}
],"spacing":52}
],
"spacing":17,
"config":{
"font":"DejaVu Sans",
"view":{"fill":"#d3d3d3","stroke":"#000000","strokeWidth":1.1},
"axis":{"grid":false,"domainColor":"#000000","domainWidth":1.1,"tickColor":"#000000","tickWidth":1.1,"tickSize":5,"labelColor":"#000000","labelFontSize":18,"labelPadding":4,"labelFlush":false,"labelOverlap":false,"titleColor":"#000000","titleFontSize":18,"titleFontWeight":"normal","titlePadding":6},
"axisX":{"titlePadding":1},
"title":{"anchor":"start","frame":"group","fontSize":18,"fontWeight":"bold","color":"#000000","subtitleFontSize":18,"subtitleColor":"#000000","subtitleFontWeight":"normal","subtitlePadding":-18,"lineHeight":18,"subtitleLineHeight":18,"offset":3}
}
}
